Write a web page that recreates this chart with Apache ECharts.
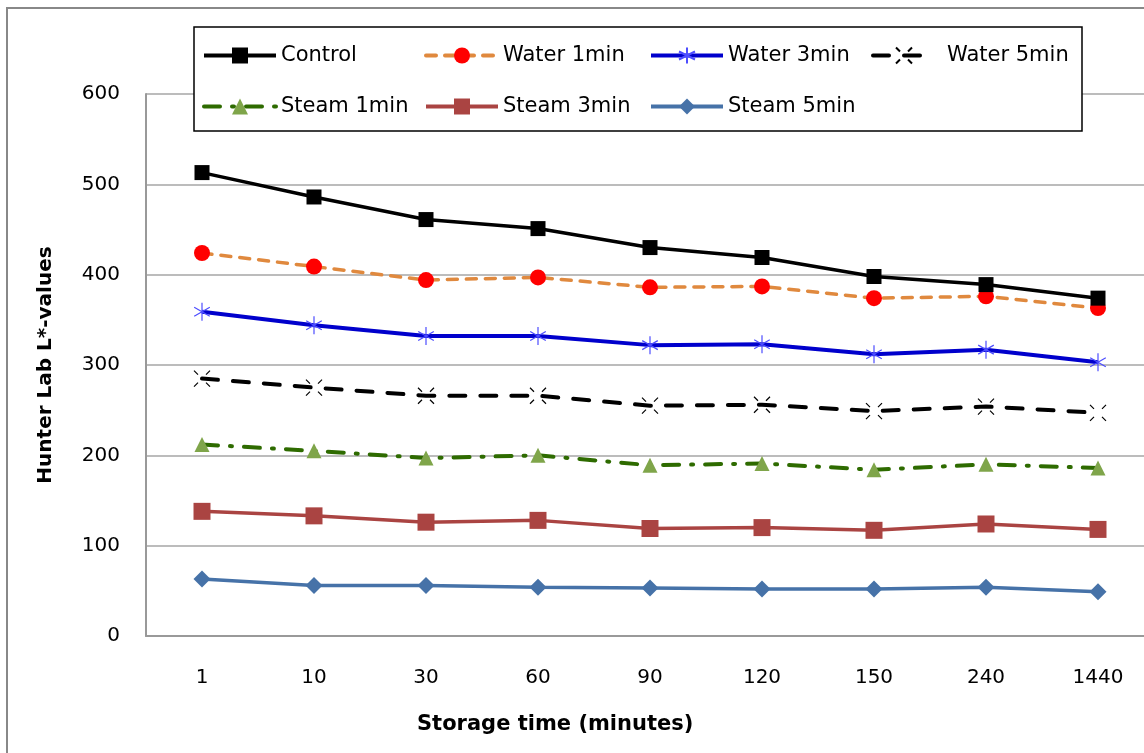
<!DOCTYPE html>
<html><head><meta charset="utf-8">
<script src="https://cdn.jsdelivr.net/npm/echarts@6/dist/echarts.min.js"></script>
<style>html,body{margin:0;padding:0;background:#fff}#c{width:1144px;height:753px}</style>
</head><body><div id="c"></div>
<script>
const categories = ['1','10','30','60','90','120','150','240','1440'];
const control   = [513,486,461,451,430,419,398,389,374];
const water1    = [424,409,394,397,386,387,374,376,363];
const water3    = [359,344,332,332,322,323,312,317,303];
const water5    = [285,275,266,266,255,256,249,254,247];
const steam1    = [212,205,197,200,189,191,184,190,186];
const steam3    = [138,133,126,128,119,120,117,124,118];
const steam5    = [63,56,56,54,53,52,52,54,49];
const seriesNames = ['Control','Water 1min','Water 3min','Water 5min','Steam 1min','Steam 3min','Steam 5min'];
const xTitle = 'Storage time (minutes)';
const yTitle = 'Hunter Lab L*-values';

const FONT = 'DejaVu Sans';
const asterisk = 'path://M0,-10L0,10M-8.66,-5L8.66,5M-8.66,5L8.66,-5';
const xmark = 'path://M-8,-8L-4,-4M4,4L8,8M-8,8L-4,4M4,-4L8,-8';

const chart = echarts.init(document.getElementById('c'), null, {renderer:'canvas'});

function legendAt(name, left, top, w, lw, textPad){
  return {data:[name], left:left, top:top, itemWidth:w, itemHeight:20, orient:'horizontal',
    lineStyle:{width:lw},
    textStyle:{fontFamily:FONT, fontSize:21, color:'#000', padding:[0,0,0,textPad||0]}, itemGap:0, selectedMode:false};
}

chart.setOption({
  animation:false,
  backgroundColor:'#fff',
  title:{text:xTitle, left:417, top:714, padding:0,
    textStyle:{fontFamily:FONT, fontSize:21, fontWeight:'bold', color:'#000'}},
  graphic:[
    {type:'rect', shape:{x:7,y:8,width:1160,height:760}, style:{fill:'none',stroke:'#888',lineWidth:2}, z:-10},
    {type:'rect', shape:{x:194,y:27,width:888,height:104}, style:{fill:'#fff',stroke:'#000',lineWidth:1.5}, z:1}
  ],
  legend:[
    legendAt(seriesNames[0], 197, 40, 72, 4),
    legendAt(seriesNames[1], 419, 40, 72, 4),
    legendAt(seriesNames[2], 644, 40, 72, 4),
    legendAt(seriesNames[3], 866, 40, 62, 4, 7),
    legendAt(seriesNames[4], 197, 91, 72, 4),
    legendAt(seriesNames[5], 419, 91, 72, 4),
    legendAt(seriesNames[6], 644, 91, 72, 4)
  ],
  grid:{left:146, top:94, height:542, width:1008, outerBoundsMode:'none', containLabel:false},
  xAxis:{type:'category', data:categories, boundaryGap:true,
    axisLine:{lineStyle:{color:'#999',width:2}}, axisTick:{show:false},
    axisLabel:{fontFamily:FONT, fontSize:20, color:'#000', margin:32}},
  yAxis:{type:'value', min:0, max:600, interval:100,
    axisLine:{show:true, lineStyle:{color:'#999',width:2}},
    axisTick:{show:false},
    splitLine:{lineStyle:{color:'#a6a6a6',width:1.5}},
    axisLabel:{fontFamily:FONT, fontSize:20, color:'#000', margin:26},
    name:yTitle, nameLocation:'middle', nameGap:90,
    nameTextStyle:{fontFamily:FONT, fontSize:20, fontWeight:'bold', color:'#000'}},
  series:[
    {name:seriesNames[0], type:'line', data:control, z:10, symbol:'rect', symbolSize:15,
      lineStyle:{color:'#000',width:3.5}, itemStyle:{color:'#000'}},
    {name:seriesNames[1], type:'line', data:water1, z:5, symbol:'circle', symbolSize:16,
      lineStyle:{color:'#e0893e',width:3.5,type:[10,9],cap:'round'}, itemStyle:{color:'#ff0000'}},
    {name:seriesNames[2], type:'line', data:water3, z:5, symbol:asterisk, symbolSize:18, symbolKeepAspect:true,
      lineStyle:{color:'#0000cc',width:4}, itemStyle:{color:'#4d4dff',borderColor:'#4d4dff',borderWidth:1.2}},
    {name:seriesNames[3], type:'line', data:water5, z:5, symbol:xmark, symbolSize:16, symbolKeepAspect:true,
      lineStyle:{color:'#000',width:4,type:[16,15],cap:'round'}, itemStyle:{color:'#000',borderColor:'#000',borderWidth:1.2}},
    {name:seriesNames[4], type:'line', data:steam1, z:5, symbol:'triangle', symbolSize:15,
      lineStyle:{color:'#2e6b00',width:4,type:[16,12,2,12],cap:'round'}, itemStyle:{color:'#7fa54a'}},
    {name:seriesNames[5], type:'line', data:steam3, z:5, symbol:'rect', symbolSize:17,
      lineStyle:{color:'#aa4442',width:3.5}, itemStyle:{color:'#aa4442'}},
    {name:seriesNames[6], type:'line', data:steam5, z:5, symbol:'diamond', symbolSize:17,
      lineStyle:{color:'#4672a8',width:3.5}, itemStyle:{color:'#4672a8'}}
  ]
});
</script></body></html>
